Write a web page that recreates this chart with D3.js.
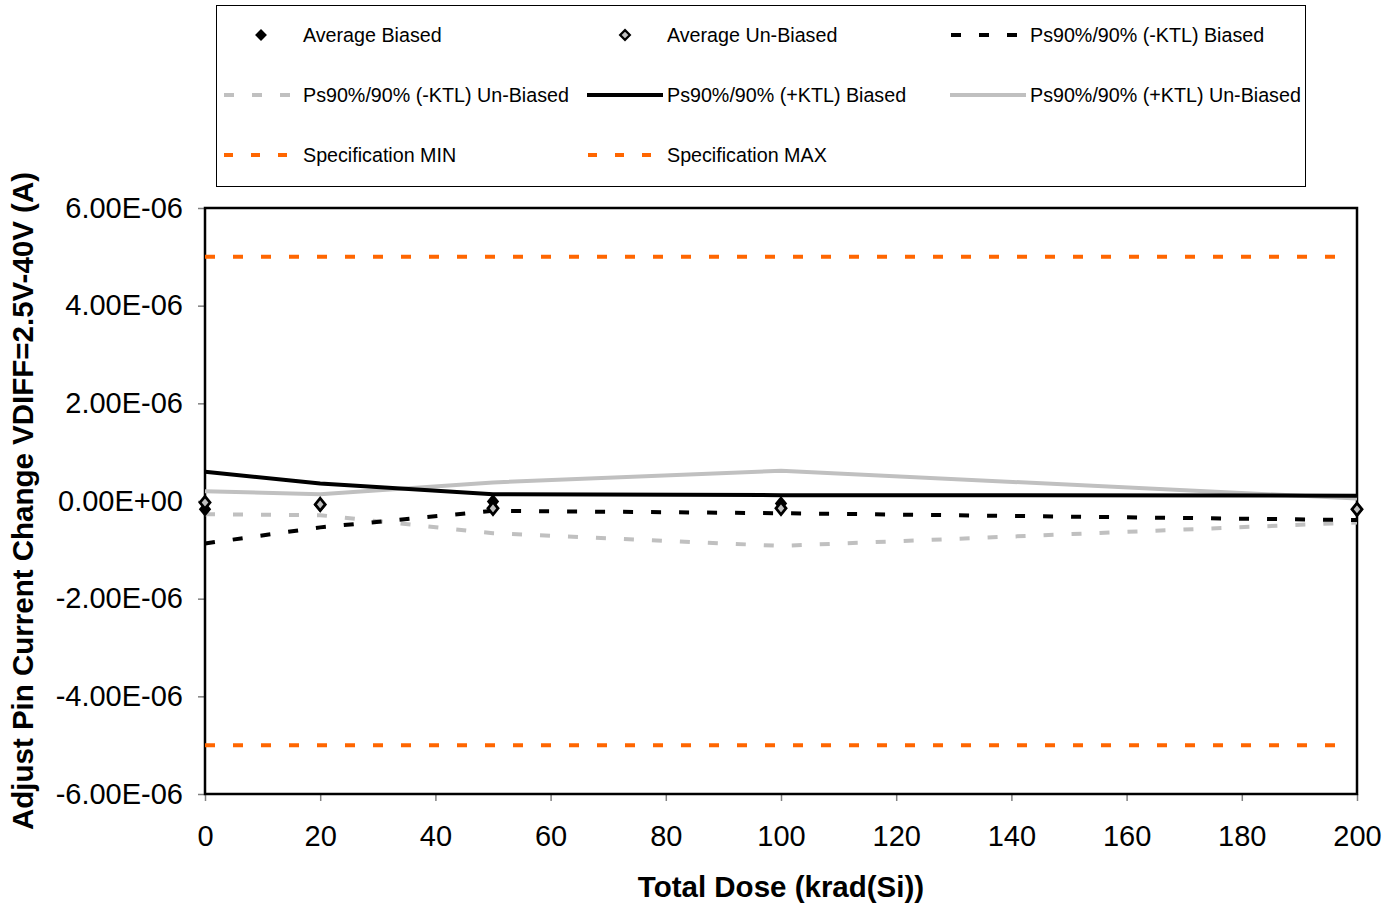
<!DOCTYPE html>
<html>
<head>
<meta charset="utf-8">
<script src="https://cdn.jsdelivr.net/npm/d3@7"></script>
<style>
  body { margin: 0; background: #fff; }
  text { font-family: "Liberation Sans", Arial, sans-serif; }
</style>
</head>
<body>
<div id="chart"></div>
<script>
var W = 1399, H = 905;
var margin = {top: 208, right: 42, bottom: 111, left: 205};
var width = W - margin.left - margin.right,
    height = H - margin.top - margin.bottom;

// data
var dose = [0, 20, 50, 100, 200];
var avgBiased = [-0.17e-6, -0.08e-6, -0.01e-6, -0.05e-6, -0.17e-6];
var avgUnbiased = [-0.03e-6, -0.07e-6, -0.15e-6, -0.15e-6, -0.17e-6];
var minusKtlBiased = [-0.87e-6, -0.54e-6, -0.2e-6, -0.25e-6, -0.39e-6];
var minusKtlUnbiased = [-0.27e-6, -0.29e-6, -0.66e-6, -0.92e-6, -0.44e-6];
var plusKtlBiased = [0.6e-6, 0.36e-6, 0.14e-6, 0.12e-6, 0.11e-6];
var plusKtlUnbiased = [0.2e-6, 0.14e-6, 0.38e-6, 0.62e-6, 0.05e-6];
var specMin = -5e-6, specMax = 5e-6;
var yTicks = [-6e-6, -4e-6, -2e-6, 0, 2e-6, 4e-6, 6e-6];
var xTicks = [0, 20, 40, 60, 80, 100, 120, 140, 160, 180, 200];

var orange = "#FF6600", grey = "#C0C0C0";

var svg = d3.select("#chart").append("svg")
    .attr("width", W).attr("height", H);

var g = svg.append("g")
    .attr("transform", "translate(" + margin.left + "," + margin.top + ")");

var x = d3.scaleLinear().domain([0, 200]).range([0, width]);
var y = d3.scaleLinear().domain([-6e-6, 6e-6]).range([height, 0]);

function fmt(v) {
  if (v === 0) return "0.00E+00";
  var s = v.toExponential(2).toUpperCase();
  var parts = s.split("E");
  var e = parseInt(parts[1], 10);
  return parts[0] + "E" + (e < 0 ? "-" : "+") + (Math.abs(e) < 10 ? "0" : "") + Math.abs(e);
}

var yAxis = g.append("g")
    .call(d3.axisLeft(y).tickValues(yTicks).tickFormat(fmt).tickSizeInner(7).tickSizeOuter(0).tickPadding(15));
yAxis.selectAll("text").attr("font-size", 29).attr("fill", "#000");

var xAxis = g.append("g")
    .attr("transform", "translate(0," + height + ")")
    .call(d3.axisBottom(x).tickValues(xTicks).tickSizeInner(7).tickSizeOuter(0).tickPadding(24));
xAxis.selectAll("text").attr("font-size", 29).attr("fill", "#000");
g.selectAll(".domain").remove();
g.selectAll(".tick line").attr("stroke", "#808080").attr("stroke-width", 1.5);

// frame
g.append("rect")
    .attr("width", width).attr("height", height)
    .attr("fill", "none").attr("stroke", "#000").attr("stroke-width", 2.5);

// spec lines
[specMin, specMax].forEach(function(v) {
  g.append("line")
      .attr("x1", 0).attr("x2", width - 8)
      .attr("y1", y(v)).attr("y2", y(v))
      .attr("stroke", orange).attr("stroke-width", 4)
      .attr("stroke-dasharray", "10,18");
});

var line = d3.line()
    .x(function(d) { return x(d.x); })
    .y(function(d) { return y(d.y); });

function pts(vals) {
  return vals.map(function(v, i) { return {x: dose[i], y: v}; });
}

var series = [
  {vals: minusKtlUnbiased, color: grey, dash: "10,18"},
  {vals: plusKtlUnbiased, color: grey, dash: null},
  {vals: minusKtlBiased, color: "#000", dash: "10,18"},
  {vals: plusKtlBiased, color: "#000", dash: null}
];

series.forEach(function(s) {
  g.append("path")
      .datum(pts(s.vals))
      .attr("d", line)
      .attr("fill", "none")
      .attr("stroke", s.color)
      .attr("stroke-width", 4)
      .attr("stroke-dasharray", s.dash);
});

var diamond = d3.symbol().type(d3.symbolDiamond2).size(120);

g.selectAll(".avgB")
    .data(pts(avgBiased))
    .enter().append("path")
    .attr("class", "avgB")
    .attr("d", diamond)
    .attr("transform", function(d) { return "translate(" + x(d.x) + "," + y(d.y) + ") scale(0.9,1.1)"; })
    .attr("fill", "#000");

g.selectAll(".avgU")
    .data(pts(avgUnbiased))
    .enter().append("path")
    .attr("class", "avgU")
    .attr("d", d3.symbol().type(d3.symbolDiamond2).size(80))
    .attr("transform", function(d) { return "translate(" + x(d.x) + "," + y(d.y) + ") scale(0.9,1.1)"; })
    .attr("fill", grey)
    .attr("stroke", "#000").attr("stroke-width", 2.8);

// axis titles
svg.append("text")
    .attr("x", margin.left + width / 2).attr("y", 897)
    .attr("text-anchor", "middle")
    .attr("font-size", 29.5).attr("font-weight", "bold")
    .text("Total Dose (krad(Si))");

svg.append("text")
    .attr("transform", "translate(33," + (margin.top + height / 2) + ") rotate(-90)")
    .attr("text-anchor", "middle")
    .attr("font-size", 29.5).attr("font-weight", "bold")
    .text("Adjust Pin Current Change VDIFF=2.5V-40V (A)");

// legend
var legend = svg.append("g");
legend.append("rect")
    .attr("x", 216.5).attr("y", 5.5).attr("width", 1089).attr("height", 181)
    .attr("fill", "#fff").attr("stroke", "#000").attr("stroke-width", 1);

var legendItems = [
  {label: "Average Biased", type: "markB"},
  {label: "Average Un-Biased", type: "markU"},
  {label: "Ps90%/90% (-KTL) Biased", type: "line", color: "#000", dash: "10,18"},
  {label: "Ps90%/90% (-KTL) Un-Biased", type: "line", color: grey, dash: "10,18"},
  {label: "Ps90%/90% (+KTL) Biased", type: "line", color: "#000", dash: null},
  {label: "Ps90%/90% (+KTL) Un-Biased", type: "line", color: grey, dash: null},
  {label: "Specification MIN", type: "line", color: orange, dash: "9,18"},
  {label: "Specification MAX", type: "line", color: orange, dash: "9,18"}
];
var colX = [223, 587, 950];
var rowY = [35, 95, 155];

legendItems.forEach(function(d, i) {
  var cx = colX[i % 3], cy = rowY[Math.floor(i / 3)];
  var item = legend.append("g").attr("transform", "translate(" + cx + "," + cy + ")");
  if (d.type === "line") {
    item.append("line")
        .attr("x1", 0).attr("x2", 76).attr("y1", 0).attr("y2", 0)
        .attr("stroke", d.color).attr("stroke-width", 4)
        .attr("stroke-dasharray", d.dash)
        .attr("stroke-dashoffset", d.dash ? -1 : null);
  } else if (d.type === "markB") {
    item.append("path").attr("d", d3.symbol().type(d3.symbolDiamond2).size(90))
        .attr("transform", "translate(38,0)").attr("fill", "#000");
  } else {
    item.append("path").attr("d", d3.symbol().type(d3.symbolDiamond2).size(60))
        .attr("transform", "translate(38,0)")
        .attr("fill", grey).attr("stroke", "#000").attr("stroke-width", 2.2);
  }
  item.append("text")
      .attr("x", 80).attr("y", 7)
      .attr("font-size", 19.7)
      .text(d.label);
});
</script>
</body>
</html>
